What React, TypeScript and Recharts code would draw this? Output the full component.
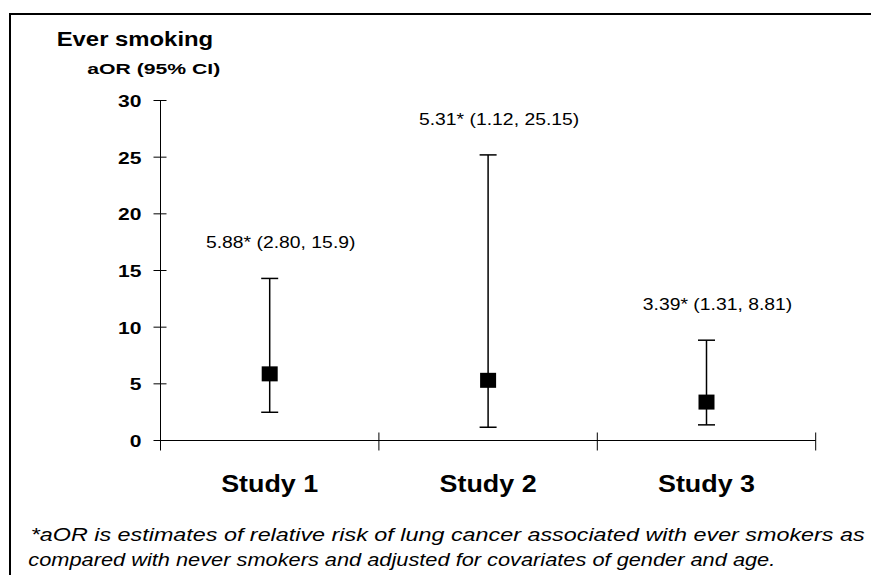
import { ScatterChart, Scatter, XAxis, YAxis, ErrorBar } from 'recharts';

const studies = ['Study 1', 'Study 2', 'Study 3'];
const oddsRatios = [5.88, 5.31, 3.39];
const lowerCI = [2.49, 1.17, 1.38];
const upperCI = [14.3, 25.2, 8.85];
const ciLabels = ['5.88* (2.80, 15.9)', '5.31* (1.12, 25.15)', '3.39* (1.31, 8.81)'];
const yTicks = [0, 5, 10, 15, 20, 25, 30];
const xTicks = [0, 0.5, 1, 1.5, 2, 2.5, 3];

const rows = studies.map((name, i) => ({
  name,
  x: i + 0.5,
  or: oddsRatios[i],
  hi: upperCI[i],
  err: [oddsRatios[i] - lowerCI[i], upperCI[i] - oddsRatios[i]],
  label: ciLabels[i],
}));

const FONT = '"Liberation Sans", Arial, sans-serif';

function YTick({ x, y, payload }: any) {
  const s = String(payload.value);
  return (
    <g>
      <line x1={x - 7} x2={x + 6} y1={y} y2={y} stroke="#000" strokeWidth={1} />
      <text
        x={x - 19}
        y={y + 6.5}
        textAnchor="end"
        fontFamily={FONT}
        fontWeight="bold"
        fontSize={16}
        textLength={11.7 * s.length}
        lengthAdjust="spacingAndGlyphs"
        fill="#000"
      >
        {s}
      </text>
    </g>
  );
}

function XTick({ x, y, payload }: any) {
  const v = payload.value;
  if (Number.isInteger(v)) {
    return <line x1={x} x2={x} y1={y - 8} y2={y + 10} stroke="#000" strokeWidth={1} />;
  }
  return (
    <text
      x={x}
      y={y + 51.5}
      textAnchor="middle"
      fontFamily={FONT}
      fontWeight="bold"
      fontSize={23}
      textLength={97}
      lengthAdjust="spacingAndGlyphs"
      fill="#000"
    >
      {studies[Math.floor(v)]}
    </text>
  );
}

function Square({ cx, cy }: any) {
  return <rect x={cx - 8} y={cy - 7.5} width={16} height={15} fill="#000" />;
}

function CiLabel({ cx, cy, payload }: any) {
  return (
    <text
      transform={`translate(${cx + 11},${cy - 30}) scale(1.21,1)`}
      textAnchor="middle"
      fontFamily={FONT}
      fontSize={16}
      fill="#000"
    >
      {payload.label}
    </text>
  );
}

export default function App() {
  return (
    <div style={{ position: 'absolute', left: 0, top: 0, width: 871, height: 575, background: '#fff', overflow: 'hidden' }}>
      <div
        style={{
          position: 'absolute',
          left: 9,
          top: 13,
          width: 900,
          height: 600,
          borderLeft: '2px solid #000',
          borderTop: '2px solid #000',
        }}
      />
      <ScatterChart
        width={871}
        height={575}
        margin={{ top: 100.5, right: 55.3, bottom: 74.5, left: 100.5 }}
        style={{ position: 'absolute', left: 0, top: 0 }}
      >
        <XAxis
          type="number"
          dataKey="x"
          domain={[0, 3]}
          ticks={xTicks}
          interval={0}
          height={60}
          tickSize={0}
          tickMargin={0}
          tickLine={false}
          axisLine={{ stroke: '#000', strokeWidth: 1 }}
          tick={<XTick />}
        />
        <YAxis
          type="number"
          domain={[0, 30]}
          ticks={yTicks}
          interval={0}
          width={60}
          tickSize={0}
          tickMargin={0}
          tickLine={false}
          axisLine={{ stroke: '#000', strokeWidth: 1 }}
          tick={<YTick />}
        />
        <Scatter data={rows} dataKey="or" shape={<Square />} isAnimationActive={false}>
          <ErrorBar dataKey="err" direction="y" width={8.5} stroke="#000" strokeWidth={1.5} isAnimationActive={false} />
        </Scatter>
        <Scatter data={rows} dataKey="hi" shape={<CiLabel />} isAnimationActive={false} />
      </ScatterChart>
      <svg width={871} height={575} style={{ position: 'absolute', left: 0, top: 0, pointerEvents: 'none' }}>
        <text x={56.7} y={46} fontFamily={FONT} fontWeight="bold" fontSize={20} textLength={156.5} lengthAdjust="spacingAndGlyphs">
          Ever smoking
        </text>
        <text x={87.3} y={74} fontFamily={FONT} fontWeight="bold" fontSize={15.5} textLength={133} lengthAdjust="spacingAndGlyphs">
          aOR (95% CI)
        </text>
        <text x={30.7} y={540.7} fontFamily={FONT} fontStyle="italic" fontSize={18} textLength={834} lengthAdjust="spacingAndGlyphs">
          *aOR is estimates of relative risk of lung cancer associated with ever smokers as
        </text>
        <text x={28.3} y={565.7} fontFamily={FONT} fontStyle="italic" fontSize={18} textLength={747} lengthAdjust="spacingAndGlyphs">
          compared with never smokers and adjusted for covariates of gender and age.
        </text>
      </svg>
    </div>
  );
}
